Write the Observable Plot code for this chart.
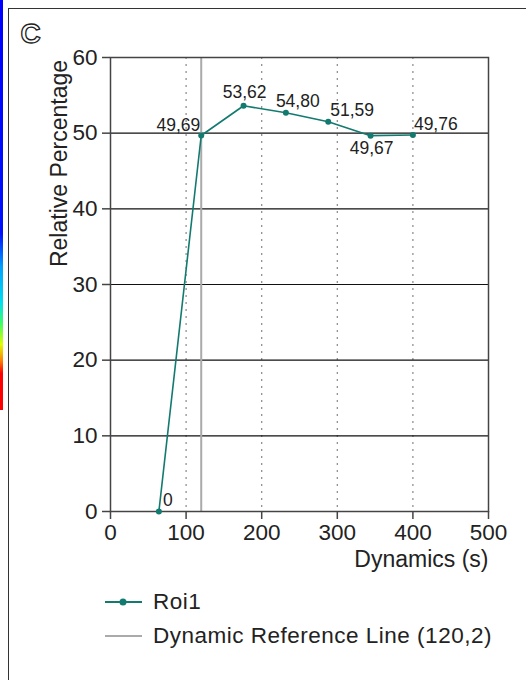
<!DOCTYPE html>
<html><head><meta charset="utf-8">
<script src="https://cdn.jsdelivr.net/npm/d3@7"></script>
<script src="https://cdn.jsdelivr.net/npm/@observablehq/plot@0.6"></script>
<style>
html,body{margin:0;padding:0;background:#fff;overflow:hidden;width:526px;height:680px;}
body{position:relative;font-family:"Liberation Sans",Arial,sans-serif;color:#222;}
#strip{position:absolute;left:0;top:0;width:3px;height:410px;
 background:linear-gradient(to bottom,#0000ff 0%,#0010ff 57%,#00a0ff 65%,#00e0f0 74%,#40ff60 79%,#e0ff00 84%,#ff8000 88%,#ff0000 91%,#ff0000 100%);}
#border{position:absolute;left:8px;top:8px;width:700px;height:700px;border:1.5px solid #333;box-sizing:border-box;pointer-events:none;}
#chart{position:absolute;left:0;top:0;}
#legend{position:absolute;left:105px;top:585px;font-size:22.5px;letter-spacing:0.5px;color:#222;}
.row{display:flex;align-items:center;height:34px;}
.row svg{margin-right:11px;}
</style></head><body>
<div id="strip"></div>
<div id="chart"></div>
<div id="border"></div>
<div id="legend"></div>
<script>
// Data
const times = [64, 120, 176, 232, 288, 344, 400];
const values = [0, 49.69, 53.62, 52.7, 51.5, 49.67, 49.76];
const valueLabels = ["0", "49,69", "53,62", "54,80", "51,59", "49,67", "49,76"];
const referenceX = [120];
const xTicks = [0, 100, 200, 300, 400, 500];
const yTicks = [0, 10, 20, 30, 40, 50, 60];
const xGrid = [100, 200, 300, 400];
const yGrid = [0, 10, 20, 30, 40, 50];
const seriesName = "Roi1";
const refName = "Dynamic Reference Line (120,2)";
const xLabel = "Dynamics (s)";
const yLabel = "Relative Percentage";
const panelLetter = "C";

const data = times.map((t, i) => ({t, v: values[i], label: valueLabels[i]}));
const teal = "#137a6f";
const font = '"Liberation Sans", Arial, sans-serif';

// label placement (styling)
const place = [
  {a: "start", dx: 4, dy: -11},
  {a: "end", dx: -1, dy: -10},
  {a: "middle", dx: 1, dy: -13},
  {a: "start", dx: -10, dy: -11},
  {a: "start", dx: 2, dy: -11},
  {a: "middle", dx: 1, dy: 13},
  {a: "start", dx: 1, dy: -11}
];

const chart = Plot.plot({
  width: 526,
  height: 585,
  marginLeft: 110,
  marginRight: 38,
  marginTop: 57,
  marginBottom: 74,
  style: {fontFamily: font, color: "#222", background: "transparent", overflow: "visible"},
  x: {domain: [0, 500]},
  y: {domain: [0, 60]},
  marks: [
    Plot.ruleX(xGrid, {stroke: "#888", strokeWidth: 1.2, strokeDasharray: "2,5"}),
    Plot.ruleY(yGrid, {stroke: "#111", strokeWidth: 1.2}),
    Plot.ruleX(referenceX, {stroke: "#aaa", strokeWidth: 2}),
    Plot.frame({stroke: "#444", strokeWidth: 1.5}),
    Plot.axisY({ticks: yTicks, tickSize: 8, tickPadding: 5, fontSize: 22.5, label: null, stroke: "#444", strokeWidth: 1.5}),
    Plot.axisX({ticks: xTicks, tickSize: 8, tickPadding: 5, fontSize: 22.5, label: null, stroke: "#444", strokeWidth: 1.5}),
    Plot.line(data, {x: "t", y: "v", stroke: teal, strokeWidth: 1.6}),
    Plot.dot(data, {x: "t", y: "v", fill: teal, r: 3}),
    ...place.map((p, i) => Plot.text([data[i]], {x: "t", y: "v", text: "label", textAnchor: p.a, dx: p.dx, dy: p.dy, fontSize: 17.5, fill: "#222"})),
    Plot.text([xLabel], {frameAnchor: "bottom-right", text: d => d, textAnchor: "end", dy: 55, fontSize: 23, fill: "#222", letterSpacing: "0.5px"}),
    Plot.text([yLabel], {frameAnchor: "top-left", text: d => d, rotate: -90, textAnchor: "middle", dx: -60, dy: 106, fontSize: 23, fill: "#222", letterSpacing: "0.3px"}),
    Plot.text([panelLetter], {frameAnchor: "top-left", text: d => d, textAnchor: "middle", dx: -80, dy: -34, fontSize: 28, fontWeight: "bold", fill: "none", stroke: "#222", strokeWidth: 1.3, paintOrder: "normal"})
  ]
});
document.getElementById("chart").appendChild(chart);

// Legend
const legend = document.getElementById("legend");
legend.innerHTML = `
<div class="row"><svg width="37" height="20"><line x1="0" x2="37" y1="10" y2="10" stroke="${teal}" stroke-width="2"/><circle cx="18" cy="10" r="3.5" fill="${teal}"/></svg><span>${seriesName}</span></div>
<div class="row"><svg width="37" height="20"><line x1="0" x2="37" y1="10" y2="10" stroke="#aaa" stroke-width="2"/></svg><span>${refName}</span></div>`;
</script>
</body></html>
